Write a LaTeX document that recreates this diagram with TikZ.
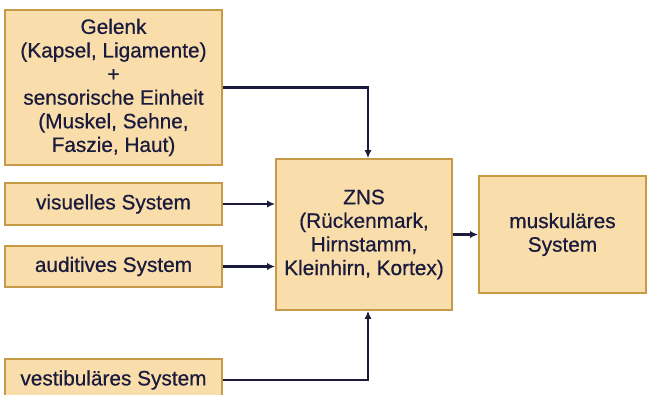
\documentclass[tikz,border=0pt]{standalone}
\usepackage{fontspec}
\setmainfont[FakeBold=0.6]{Liberation Sans}
\usetikzlibrary{arrows.meta,calc}
\definecolor{boxfill}{HTML}{F9DEAC}
\definecolor{boxline}{HTML}{C79A48}
\definecolor{ink}{HTML}{1A1A3C}
\begin{document}
\begin{tikzpicture}[x=1pt,y=1pt,
  box/.style={draw=boxline,line width=1.6pt,fill=boxfill,text=ink,align=center,
    inner sep=0pt,font=\fontsize{20.8}{23.6}\selectfont},
  conn/.style={draw=ink,line width=2.2pt,-{Latex[length=8pt,width=7pt]}}]
\useasboundingbox (0,0) rectangle (650,394);
\node[box,minimum width=217,minimum height=155] (gel) at (113.5,306.5)
  {Gelenk\\(Kapsel, Ligamente)\\+\\sensorische Einheit\\(Muskel, Sehne,\\Faszie, Haut)};
\node[box,minimum width=217,minimum height=42] (vis) at (113.5,190) {visuelles System};
\node[box,minimum width=217,minimum height=41] (aud) at (113.5,127.5) {auditives System};
\node[box,minimum width=217,minimum height=42] (ves) at (113.5,14) {vestibuläres System};
\node[box,minimum width=176,minimum height=151] (zns) at (364,159.5)
  {ZNS\\(Rückenmark,\\Hirnstamm,\\Kleinhirn, Kortex)};
\node[box,minimum width=167,minimum height=117] (mus) at (562.5,159.5)
  {muskuläres\\System};
\coordinate (zt) at ($(zns.north)+(4,0)$);
\coordinate (zb) at ($(zns.south)+(4,0)$);
\draw[conn] (gel.east) -| (zt);
\draw[conn] (vis.east) -- (vis.east -| zns.west);
\draw[conn] (aud.east) -- (aud.east -| zns.west);
\draw[conn] (ves.east) -| (zb);
\draw[conn] (zns.east) -- (mus.west);
\end{tikzpicture}
\end{document}
